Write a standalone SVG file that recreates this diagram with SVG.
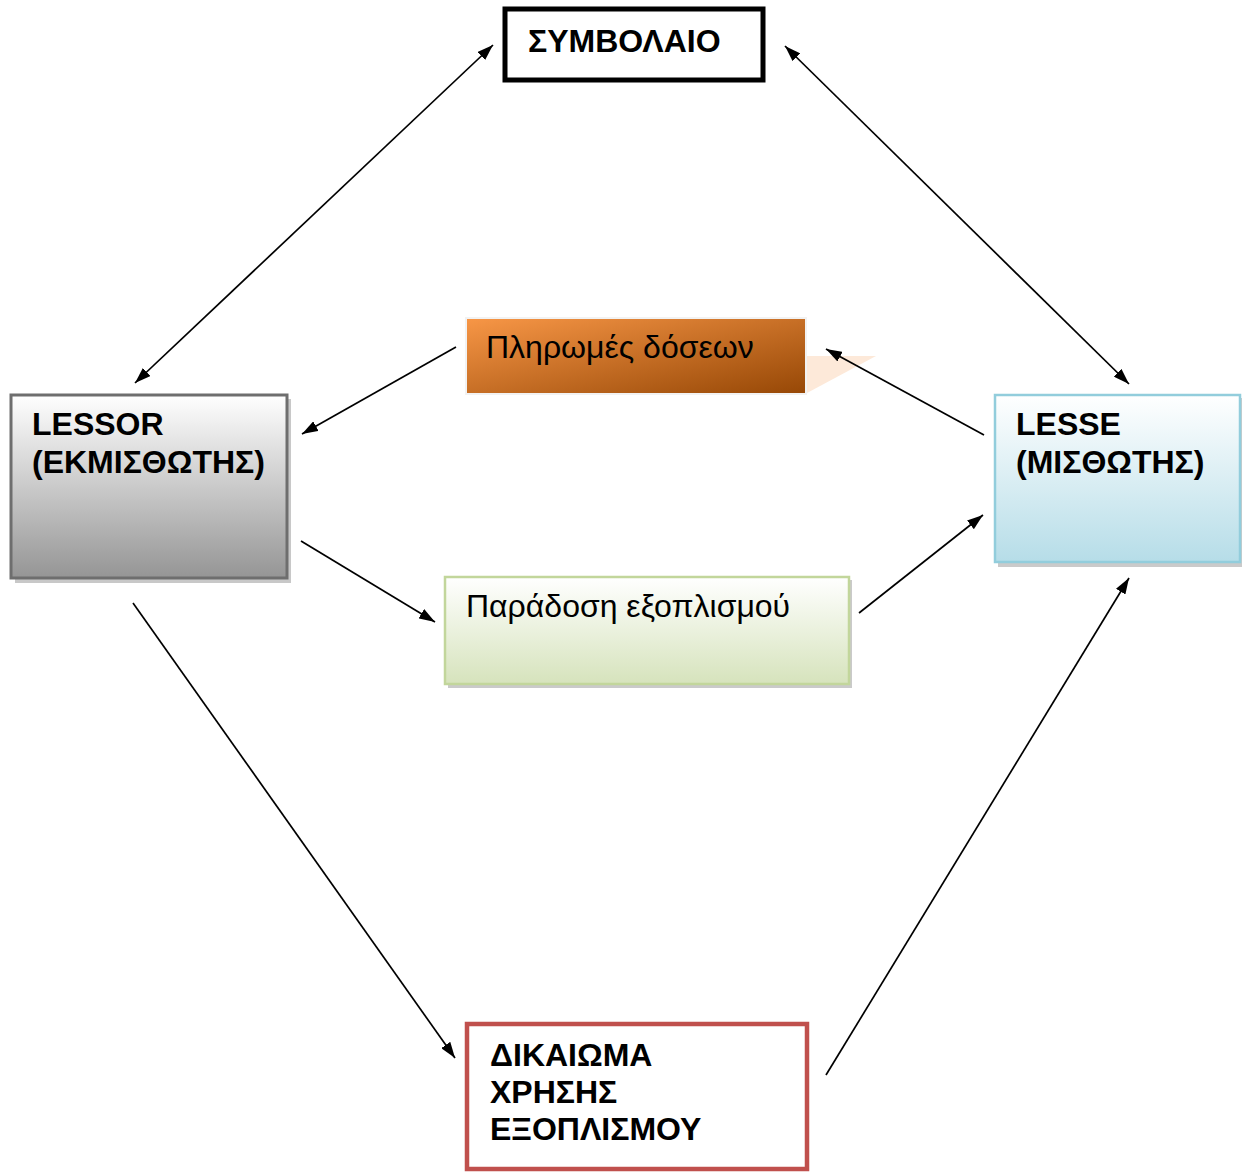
<svg xmlns="http://www.w3.org/2000/svg" width="1242" height="1173" viewBox="0 0 1242 1173">
<defs>
<style>
.b{font-family:"Liberation Sans",Arial,sans-serif;font-weight:bold;font-size:32px;fill:#000}
.n{font-family:"Liberation Sans",Arial,sans-serif;font-size:32px;fill:#000}
.c{stroke:#000;stroke-width:1.7;fill:none}
</style>
<linearGradient id="gGray" x1="0" y1="0" x2="0" y2="1"><stop offset="0" stop-color="#ffffff"/><stop offset="1" stop-color="#959595"/></linearGradient>
<linearGradient id="gBlue" x1="0" y1="0" x2="0" y2="1"><stop offset="0" stop-color="#ffffff"/><stop offset="1" stop-color="#b6dde8"/></linearGradient>
<linearGradient id="gGreen" x1="0" y1="0" x2="0" y2="1"><stop offset="0" stop-color="#ffffff"/><stop offset="1" stop-color="#d6e3bc"/></linearGradient>
<linearGradient id="gOrange" x1="0" y1="0" x2="1" y2="1"><stop offset="0" stop-color="#f79646"/><stop offset="1" stop-color="#974806"/></linearGradient>
<marker id="ahl" viewBox="0 0 16 11" refX="16" refY="5.5" markerWidth="16" markerHeight="11" markerUnits="userSpaceOnUse" orient="auto-start-reverse">
<path d="M0,0 L16,5.5 L0,11 z" fill="#000"/>
</marker>
</defs>
<rect width="1242" height="1173" fill="#fff"/>

<g id="symvolaio">
<rect x="505" y="9" width="258" height="71" fill="#fff" stroke="#000" stroke-width="5"/>
<text class="b" x="528" y="52">ΣΥΜΒΟΛΑΙΟ</text>
</g>

<g id="lessor">
<rect x="15" y="399" width="276" height="184" fill="#c8c8c8"/>
<rect x="11" y="395" width="276" height="183" fill="url(#gGray)" stroke="#6e6e6e" stroke-width="3"/>
<text class="b" x="32" y="435">LESSOR</text>
<text class="b" x="32" y="473">(ΕΚΜΙΣΘΩΤΗΣ)</text>
</g>

<g id="plirwmes">
<polygon points="807,356 876,356 807,393" fill="#fde9d9"/>
<rect x="465" y="317" width="342" height="78" fill="#f2f2f2"/>
<rect x="467" y="319" width="338" height="74" fill="url(#gOrange)"/>
<text class="n" x="486" y="358">Πληρωμές δόσεων</text>
</g>

<g id="lesse">
<rect x="998" y="398" width="244" height="169" fill="#a6a6a6" opacity="0.6"/>
<rect x="995" y="395" width="245" height="167" fill="url(#gBlue)" stroke="#92cddc" stroke-width="2.5"/>
<text class="b" x="1016" y="435">LESSE</text>
<text class="b" x="1016" y="473">(ΜΙΣΘΩΤΗΣ)</text>
</g>

<g id="paradosi">
<rect x="448" y="580" width="404" height="108" fill="#a6a6a6" opacity="0.6"/>
<rect x="445" y="577" width="404" height="107" fill="url(#gGreen)" stroke="#c2d69b" stroke-width="2.5"/>
<text class="n" x="466" y="617">Παράδοση εξοπλισμού</text>
</g>

<g id="dikaioma">
<rect x="467" y="1024" width="340" height="145" fill="#fff" stroke="#c0504d" stroke-width="4.5"/>
<text class="b" x="490" y="1066">ΔΙΚΑΙΩΜΑ</text>
<text class="b" x="490" y="1103">ΧΡΗΣΗΣ</text>
<text class="b" x="490" y="1140">ΕΞΟΠΛΙΣΜΟΥ</text>
</g>

<g id="connectors">
<line class="c" x1="135" y1="383" x2="493" y2="45" marker-start="url(#ahl)" marker-end="url(#ahl)"/>
<line class="c" x1="785" y1="46" x2="1129" y2="384" marker-start="url(#ahl)" marker-end="url(#ahl)"/>
<line class="c" x1="456" y1="347" x2="302" y2="434" marker-end="url(#ahl)"/>
<line class="c" x1="984" y1="435" x2="826" y2="349" marker-end="url(#ahl)"/>
<line class="c" x1="301" y1="541" x2="435" y2="622" marker-end="url(#ahl)"/>
<line class="c" x1="859" y1="613" x2="983" y2="515" marker-end="url(#ahl)"/>
<line class="c" x1="133" y1="603" x2="455" y2="1058" marker-end="url(#ahl)"/>
<line class="c" x1="826" y1="1075" x2="1129" y2="578" marker-end="url(#ahl)"/>
</g>
</svg>
